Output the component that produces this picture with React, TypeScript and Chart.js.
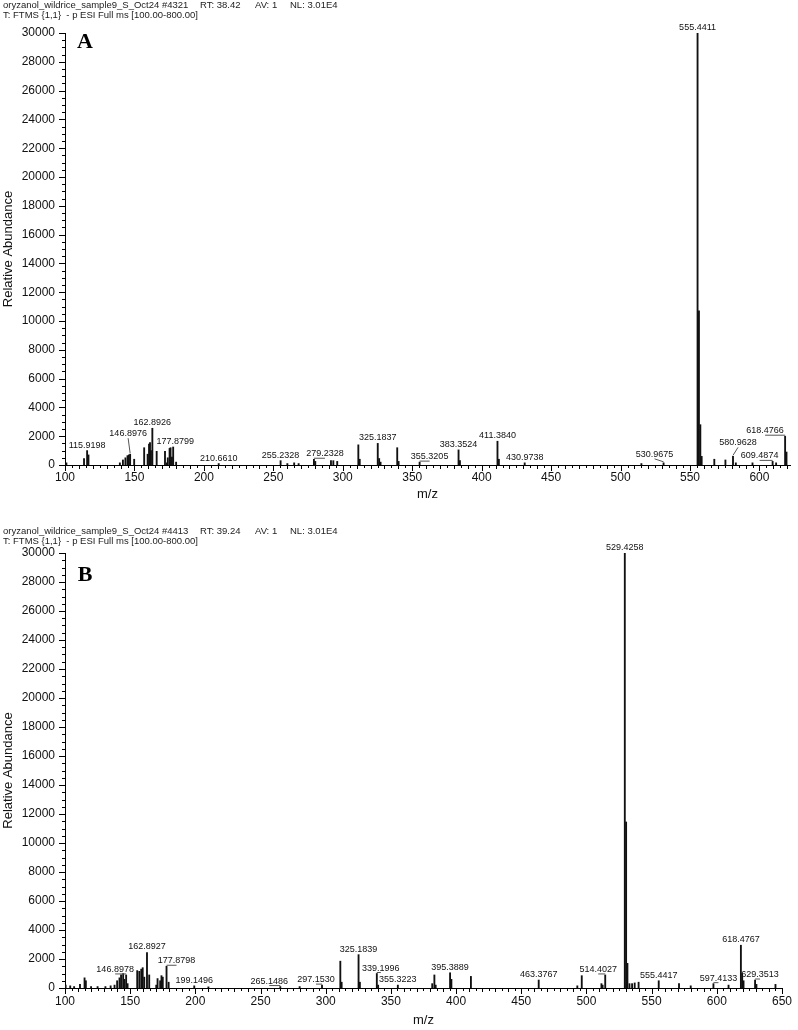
import React, { useEffect, useRef } from 'react';
import { Chart, registerables } from 'chart.js';

Chart.register(...registerables);
Chart.defaults.font.family = '"Liberation Sans", Arial, Helvetica, sans-serif';

// ---------- Panel A data ----------
const headerA1 = ['oryzanol_wildrice_sample9_S_Oct24 #4321', 'RT: 38.42', 'AV: 1', 'NL: 3.01E4'];
const headerA2 = 'T: FTMS {1,1}  - p ESI Full ms [100.00-800.00]';
const mzA = [101.0, 113.7, 115.9198, 116.9, 139.5, 141.7, 143.5, 145.0, 146.0, 146.8976, 149.8, 157.0, 159.5, 160.5, 161.2, 161.9, 162.8926, 166.0, 172.0, 173.4, 174.0, 175.3, 176.0, 177.0, 177.8799, 180.0, 210.6610, 255.2328, 260.1, 265.0, 268.2, 279.2328, 280.2, 291.5, 293.2, 296.0, 311.2, 312.2, 325.1837, 326.2, 327.2, 339.2, 340.2, 355.3205, 383.3524, 384.35, 411.3840, 412.4, 430.9738, 515.0, 530.9675, 555.4411, 556.44, 557.44, 558.4, 567.5, 575.5, 580.9628, 583.0, 595.0, 609.4874, 612.0, 618.4766, 619.48];
const intA = [150, 450, 1000, 700, 150, 350, 500, 650, 700, 750, 400, 1200, 750, 1450, 1550, 1000, 2550, 950, 950, 150, 500, 1150, 1200, 550, 1250, 200, 100, 300, 100, 150, 100, 400, 250, 300, 300, 250, 1400, 400, 1500, 450, 200, 1200, 250, 200, 1050, 300, 1650, 400, 150, 100, 150, 30000, 10700, 2800, 600, 400, 350, 600, 150, 150, 250, 150, 2000, 900];
const labeledA = [115.9198, 146.8976, 162.8926, 177.8799, 210.6610, 255.2328, 279.2328, 325.1837, 355.3205, 383.3524, 411.3840, 430.9738, 530.9675, 555.4411, 580.9628, 609.4874, 618.4766];

// ---------- Panel B data ----------
const headerB1 = ['oryzanol_wildrice_sample9_S_Oct24 #4413', 'RT: 39.24', 'AV: 1', 'NL: 3.01E4'];
const headerB2 = 'T: FTMS {1,1}  - p ESI Full ms [100.00-800.00]';
const mzB = [100.5, 104.0, 107.0, 111.5, 115.0, 116.0, 120.0, 125.0, 131.0, 135.0, 138.0, 140.0, 141.8, 143.0, 144.6, 145.5, 146.8978, 148.0, 155.4, 157.0, 158.5, 159.6, 160.8, 162.8927, 164.6, 170.0, 171.0, 173.0, 174.0, 175.0, 177.8798, 179.5, 199.1496, 210.0, 265.1486, 280.0, 297.1530, 311.2, 312.2, 325.1839, 326.2, 339.1996, 340.2, 355.3223, 381.7, 383.35, 384.35, 395.3889, 396.4, 411.38, 463.3767, 493.0, 496.4, 511.5, 512.4, 514.4027, 529.4258, 530.43, 531.43, 533.0, 535.0, 537.0, 540.0, 555.4417, 571.0, 580.0, 597.4133, 609.0, 618.4767, 619.48, 620.5, 629.3513, 630.4, 645.0];
const intB = [200, 150, 100, 250, 700, 500, 100, 100, 100, 150, 200, 500, 700, 900, 1000, 600, 900, 300, 1200, 1150, 1300, 1400, 750, 2450, 900, 200, 650, 500, 850, 750, 1500, 400, 150, 80, 100, 100, 200, 1850, 400, 2300, 400, 1000, 200, 200, 300, 900, 200, 1050, 600, 800, 550, 150, 850, 300, 200, 900, 30000, 11450, 1700, 300, 300, 350, 400, 500, 300, 150, 300, 200, 2950, 1000, 500, 550, 250, 250];
const labeledB = [146.8978, 162.8927, 177.8798, 199.1496, 265.1486, 297.1530, 325.1839, 339.1996, 355.3223, 395.3889, 463.3767, 514.4027, 529.4258, 555.4417, 597.4133, 618.4767, 629.3513];

// ---------- style (label nudges, header positions) ----------
const nudgeA: Record<string, [number, number]> = {
  '146.8976': [-2, -15], '177.8799': [2, 0], '279.2328': [11, 0], '355.3205': [10, 0],
  '530.9675': [-9, -3], '580.9628': [5, -8], '609.4874': [-13, 0], '618.4766': [-20, 0],
};
const nudgeB: Record<string, [number, number]> = {
  '146.8978': [-11, 0], '177.8798': [10, 0], '265.1486': [-11, 0], '297.1530': [-6, 0],
  '339.1996': [4, 0], '514.4027': [-7, 0], '597.4133': [5, 0], '629.3513': [5, 0],
};
const headerX = [3, 200, 255, 290];

type Panel = {
  top: number; height: number; letter: string; letterY: number;
  h1: string[]; h2: string; h1y: number; h2y: number;
  mz: number[]; inten: number[]; labeled: number[]; nudge: Record<string, [number, number]>;
  xMax: number; padTop: number; padRight: number; xHeight: number;
  tickPad: number; titlePad: number;
};

const panels: Panel[] = [
  { top: 0, height: 520, letter: 'A', letterY: 42, h1: headerA1, h2: headerA2, h1y: 5, h2y: 15,
    mz: mzA, inten: intA, labeled: labeledA, nudge: nudgeA, xMax: 622, padTop: 33, padRight: 8,
    xHeight: 55, tickPad: 5, titlePad: 18 },
  { top: 520, height: 510, letter: 'B', letterY: 55, h1: headerB1, h2: headerB2, h1y: 11, h2y: 21,
    mz: mzB, inten: intB, labeled: labeledB, nudge: nudgeB, xMax: 650, padTop: 33, padRight: 10,
    xHeight: 42, tickPad: 6, titlePad: 2 },
];

function makePlugin(p: Panel) {
  return {
    id: 'spectrumDecor' + p.letter,
    afterDraw(chart: any) {
      const { ctx, chartArea, scales } = chart;
      const x = scales.x;
      const y = scales.y;
      ctx.save();
      // header
      ctx.fillStyle = '#222';
      ctx.font = '9.5px "Liberation Sans", Arial, sans-serif';
      ctx.textBaseline = 'middle';
      ctx.textAlign = 'left';
      p.h1.forEach((t, i) => ctx.fillText(t, headerX[i], p.h1y));
      ctx.fillText(p.h2, 3, p.h2y);
      // panel letter
      ctx.fillStyle = '#000';
      ctx.font = 'bold 22px "Liberation Serif", "Times New Roman", serif';
      ctx.textAlign = 'center';
      ctx.fillText(p.letter, 85, p.letterY);

      // tick marks
      ctx.strokeStyle = '#000';
      ctx.lineWidth = 1;
      ctx.beginPath();
      for (let v = 0; v <= y.max; v += 500) {
        const py = Math.round(y.getPixelForValue(v)) + 0.5;
        const len = v % 2000 === 0 ? 6 : 3;
        ctx.moveTo(chartArea.left - len, py);
        ctx.lineTo(chartArea.left, py);
      }
      for (let v = 100; v <= x.max; v += 5) {
        const px = Math.round(x.getPixelForValue(v)) + 0.5;
        const len = v % 50 === 0 ? 6 : v % 10 === 0 ? 4 : 3;
        ctx.moveTo(px, chartArea.bottom);
        ctx.lineTo(px, chartArea.bottom + len);
      }
      ctx.stroke();

      // peak labels
      ctx.font = '9px "Liberation Sans", Arial, sans-serif';
      ctx.textAlign = 'center';
      ctx.textBaseline = 'alphabetic';
      ctx.fillStyle = '#111';
      ctx.strokeStyle = '#555';
      p.labeled.forEach((m) => {
        const idx = p.mz.indexOf(m);
        if (idx < 0) return;
        const text = m.toFixed(4);
        const px = x.getPixelForValue(m);
        const top = y.getPixelForValue(p.inten[idx]);
        const [dx, dy] = p.nudge[text] || [0, 0];
        const lx = px + dx;
        const base = top - 3 + dy;
        ctx.fillText(text, lx, base);
        if (Math.abs(dx) > 3 || dy < -3) {
          ctx.beginPath();
          ctx.moveTo(px, top - 1);
          ctx.lineTo(lx, base + 2);
          ctx.stroke();
        }
      });
      ctx.restore();
    },
  };
}

function Spectrum({ p }: { p: Panel }) {
  const ref = useRef<HTMLCanvasElement | null>(null);
  useEffect(() => {
    if (!ref.current) return;
    const points = p.mz.map((m, i) => ({ x: m, y: p.inten[i] }));
    const chart = new Chart(ref.current, {
      type: 'bar',
      data: {
        datasets: [{
          data: points as any,
          backgroundColor: '#111',
          borderWidth: 0,
          barThickness: 1.2,
          grouped: false,
        } as any],
      },
      options: {
        responsive: false,
        animation: false,
        events: [],
        layout: { padding: { top: p.padTop, right: p.padRight, left: 0, bottom: 0 } },
        plugins: { legend: { display: false }, tooltip: { enabled: false } },
        scales: {
          x: {
            type: 'linear',
            min: 100,
            max: p.xMax,
            offset: false,
            afterFit: (s: any) => { s.height = p.xHeight; },
            grid: { display: false, drawTicks: false },
            border: { display: true, color: '#000', width: 1 },
            ticks: {
              stepSize: 50, includeBounds: false, padding: p.tickPad, color: '#111',
              font: { size: 12 }, maxRotation: 0, autoSkip: false,
              callback: (v: any) => String(v),
            },
            title: { display: true, text: 'm/z', color: '#111', font: { size: 13 },
              padding: { top: p.titlePad, bottom: p.titlePad } },
          } as any,
          y: {
            type: 'linear',
            min: 0,
            max: 30000,
            afterFit: (s: any) => { s.width = 65; },
            grid: { display: false, drawTicks: false },
            border: { display: true, color: '#000', width: 1 },
            ticks: {
              stepSize: 2000, padding: 10, color: '#111', font: { size: 12 },
              callback: (v: any) => String(v),
            },
            title: { display: true, text: 'Relative Abundance', color: '#111', font: { size: 13 },
              padding: { top: 1, bottom: 0 } },
          } as any,
        },
      },
      plugins: [makePlugin(p)],
    });
    return () => chart.destroy();
  }, []);
  return (
    <div style={{ position: 'absolute', left: 0, top: p.top, width: 798, height: p.height }}>
      <canvas ref={ref} width={798} height={p.height} style={{ width: 798, height: p.height, display: 'block' }} />
    </div>
  );
}

export default function App() {
  return (
    <div style={{ position: 'absolute', left: 0, top: 0, width: 798, height: 1030, background: '#fff' }}>
      {panels.map((p) => <Spectrum key={p.letter} p={p} />)}
    </div>
  );
}
